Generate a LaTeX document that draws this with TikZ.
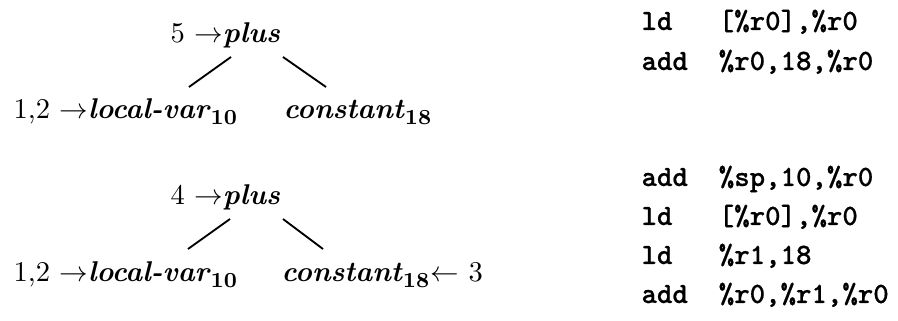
\documentclass[tikz,border=0pt]{standalone}
\usepackage{fontspec}
\newfontfamily\codefont{lmmonolt10-bold.otf}[FakeBold=0.6]
\newcommand\opw[1]{\textbf{\textit{#1}}}
\newcommand\subw[1]{\raisebox{-0.45ex}{\fontsize{7.5}{8}\selectfont\bfseries #1}}
\begin{document}
\begin{tikzpicture}[x=0.35pt,y=-0.35pt,
  lbl/.style={anchor=base west, inner sep=0pt},
  code/.style={anchor=base west, inner sep=0pt, font=\codefont\fontsize{10.3}{12}\selectfont},
  edge/.style={line width=0.65pt}]
\useasboundingbox (0,0) rectangle (898,321);
% tree 1
\node[lbl] (p1) at (170,43) {5 $\rightarrow$\opw{plus}};
\node[lbl] (l1) at (13,119) {1,2 $\rightarrow$\opw{local-var}\subw{10}};
\node[lbl] (c1) at (283,119) {\opw{constant}\subw{18}};
\coordinate (p1a) at (231,57);
\coordinate (p1b) at (283,57);
\coordinate (l1t) at (189,87);
\coordinate (c1t) at (326,87);
\draw[edge] (p1a) -- (l1t);
\draw[edge] (p1b) -- (c1t);
% tree 2
\node[lbl] (p2) at (170,205) {4 $\rightarrow$\opw{plus}};
\node[lbl] (l2) at (13,282) {1,2 $\rightarrow$\opw{local-var}\subw{10}};
\node[lbl] (c2) at (281,282) {\opw{constant}\subw{18}\kern0.5pt$\leftarrow$ 3};
\coordinate (p2a) at (230,219);
\coordinate (p2b) at (283,219);
\coordinate (l2t) at (188,249);
\coordinate (c2t) at (323,249);
\draw[edge] (p2a) -- (l2t);
\draw[edge] (p2b) -- (c2t);
% code
\node[code] (k1) at (641,30) {ld\ \ \ [\%r0],\%r0};
\node[code] (k2) at (641,70) {add\ \ \%r0,18,\%r0};
\node[code] (k3) at (641,186) {add\ \ \%sp,10,\%r0};
\node[code] (k4) at (641,225) {ld\ \ \ [\%r0],\%r0};
\node[code] (k5) at (641,264) {ld\ \ \ \%r1,18};
\node[code] (k6) at (641,303) {add\ \ \%r0,\%r1,\%r0};
\end{tikzpicture}
\end{document}
